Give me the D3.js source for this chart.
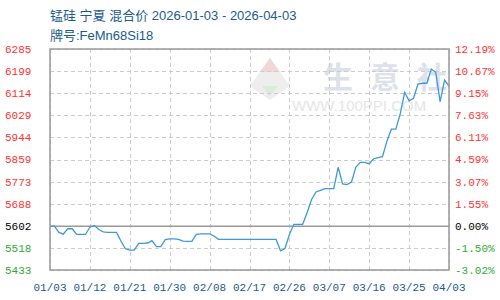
<!DOCTYPE html>
<html>
<head>
<meta charset="utf-8">
<script src="https://cdn.jsdelivr.net/npm/d3@7"></script>
<style>
  html, body { margin: 0; padding: 0; background: #fff; }
  svg { display: block; }
</style>
</head>
<body>
<div id="chart"></div>
<script>
(() => {
  const titleText = '锰硅 宁夏 混合价 2026-01-03 - 2026-04-03';
  const subTitle = '牌号:FeMn68Si18';
  const startDate = '2026-01-03';
  const endDate = '2026-04-03';
  const baseValue = 5602;

  // precio diario desde 01/03
  const prices = [
    5602, 5602, 5578, 5571, 5592, 5592, 5570, 5570, 5570, 5598,
    5605, 5589, 5580, 5578, 5578, 5578, 5545, 5515, 5510, 5510,
    5536, 5536, 5537, 5546, 5523, 5523, 5550, 5553, 5553, 5551,
    5544, 5543, 5543, 5570, 5572, 5572, 5572, 5564, 5551, 5551,
    5551, 5551, 5551, 5551, 5551, 5551, 5551, 5551, 5551, 5551,
    5551, 5551, 5507, 5516, 5570, 5609, 5609, 5609, 5655, 5705,
    5734, 5740, 5747, 5747, 5747, 5829, 5765, 5762, 5772, 5830,
    5848, 5848, 5843, 5862, 5866, 5870, 5930, 5976, 5976, 6035,
    6118, 6085, 6095, 6150, 6153, 6153, 6208, 6195, 6082, 6165,
    6142
  ];

  const leftTicks = ['5433', '5518', '5602', '5688', '5773', '5859', '5944', '6029', '6114', '6199', '6285'];
  const rightTicks = ['-3.02%', '-1.50%', '0.00%', '1.55%', '3.07%', '4.59%', '6.11%', '7.63%', '9.15%', '10.67%', '12.19%'];
  const xTicks = ['01/03', '01/12', '01/21', '01/30', '02/08', '02/17', '02/26', '03/07', '03/16', '03/25', '04/03'];
  const watermarkChars = ['生', '意', '社'];

  const width = 500, height = 300;
  const plot = { left: 50, right: 449, top: 49, bottom: 270 };
  const red = '#ff3333', green = '#33aa33', blue = '#1a5b8c';
  const font = '"Liberation Mono", "DejaVu Sans Mono", monospace';
  const titleFont = '"Liberation Sans", "Noto Sans CJK SC", sans-serif';

  const parse = d3.utcParse('%Y-%m-%d');
  const t0 = parse(startDate);
  const data = prices.map((v, i) => ({ date: d3.utcDay.offset(t0, i), value: v }));
  const tickDates = xTicks.map((_, i) => d3.utcDay.offset(t0, i * 9));

  const x = d3.scaleUtc()
    .domain([t0, parse(endDate)])
    .range([plot.left, plot.right]);

  const y = d3.scaleLinear()
    .domain([+leftTicks[0], +leftTicks[leftTicks.length - 1]])
    .range([plot.bottom, plot.top]);

  const svg = d3.select('#chart')
    .append('svg')
    .attr('width', width)
    .attr('height', height);

  // Titulo
  svg.append('text')
    .attr('x', 50).attr('y', 20)
    .attr('fill', blue)
    .attr('font-family', titleFont)
    .attr('font-size', 13)
    .text(titleText);

  svg.append('text')
    .attr('x', 50).attr('y', 40)
    .attr('fill', blue)
    .attr('font-family', titleFont)
    .attr('font-size', 13)
    .text(subTitle);

  // Marca de agua
  const wm = svg.append('g');
  wm.append('path')
    .attr('d', 'M270,58 L290,86 L270,100 L250,86 Z')
    .attr('fill', '#eeeeee');
  wm.append('path')
    .attr('d', 'M270,58 L280,72 L260,72 Z')
    .attr('fill', '#f3d6d6');
  wm.append('path')
    .attr('d', 'M262,86 L278,86 L270,96 Z')
    .attr('fill', '#d9ecd9');
  wm.selectAll('.wm-char')
    .data(watermarkChars)
    .enter()
    .append('text')
    .attr('x', (d, i) => 323 + i * 47)
    .attr('y', 88)
    .attr('fill', '#dde1ea')
    .attr('font-family', '"Noto Sans CJK SC", sans-serif')
    .attr('font-weight', 'bold')
    .attr('font-size', 30)
    .text(d => d);
  wm.append('text')
    .attr('x', 292).attr('y', 111)
    .attr('fill', '#e6e6e6')
    .attr('font-family', '"Liberation Sans", sans-serif')
    .attr('font-size', 15)
    .text('WWW.100PPI.COM');

  // Rejilla
  const grid = svg.append('g')
    .attr('stroke', '#cccccc')
    .attr('stroke-dasharray', '4,3')
    .attr('stroke-width', 1);

  grid.selectAll('.hgrid')
    .data(leftTicks.filter(t => +t !== baseValue))
    .enter()
    .append('line')
    .attr('x1', plot.left).attr('x2', plot.right)
    .attr('y1', d => Math.round(y(+d)) + 0.5)
    .attr('y2', d => Math.round(y(+d)) + 0.5);

  grid.selectAll('.vgrid')
    .data(tickDates)
    .enter()
    .append('line')
    .attr('x1', d => Math.round(x(d)) + 0.5)
    .attr('x2', d => Math.round(x(d)) + 0.5)
    .attr('y1', plot.top).attr('y2', plot.bottom);

  // Linea base
  svg.append('line')
    .attr('x1', plot.left).attr('x2', plot.right)
    .attr('y1', y(baseValue)).attr('y2', y(baseValue))
    .attr('stroke', '#999')
    .attr('stroke-width', 1.5);

  // Serie
  const line = d3.line()
    .x(d => x(d.date))
    .y(d => y(d.value));

  svg.append('path')
    .datum(data)
    .attr('fill', 'none')
    .attr('stroke', '#3d9ad8')
    .attr('stroke-width', 1.3)
    .attr('d', line);

  // Borde
  svg.append('rect')
    .attr('x', plot.left).attr('y', plot.top)
    .attr('width', plot.right - plot.left)
    .attr('height', plot.bottom - plot.top)
    .attr('fill', 'none')
    .attr('stroke', '#999')
    .attr('stroke-width', 1.5);

  const colorFor = v => v > baseValue ? red : (v < baseValue ? green : '#000');

  // Ejes
  svg.selectAll('.left-label')
    .data(leftTicks)
    .enter()
    .append('text')
    .attr('x', 5)
    .attr('y', d => y(+d))
    .attr('dy', '0.35em')
    .attr('fill', d => colorFor(+d))
    .attr('font-family', font)
    .attr('font-size', 11)
    .text(d => d);

  svg.selectAll('.right-label')
    .data(rightTicks)
    .enter()
    .append('text')
    .attr('x', 455)
    .attr('y', (d, i) => y(+leftTicks[i]))
    .attr('dy', '0.35em')
    .attr('fill', (d, i) => colorFor(+leftTicks[i]))
    .attr('font-family', font)
    .attr('font-size', 11)
    .text(d => d);

  svg.selectAll('.x-label')
    .data(xTicks)
    .enter()
    .append('text')
    .attr('x', (d, i) => x(tickDates[i]))
    .attr('y', 291)
    .attr('text-anchor', 'middle')
    .attr('fill', blue)
    .attr('font-family', font)
    .attr('font-size', 11)
    .text(d => d);
})();
</script>
</body>
</html>
